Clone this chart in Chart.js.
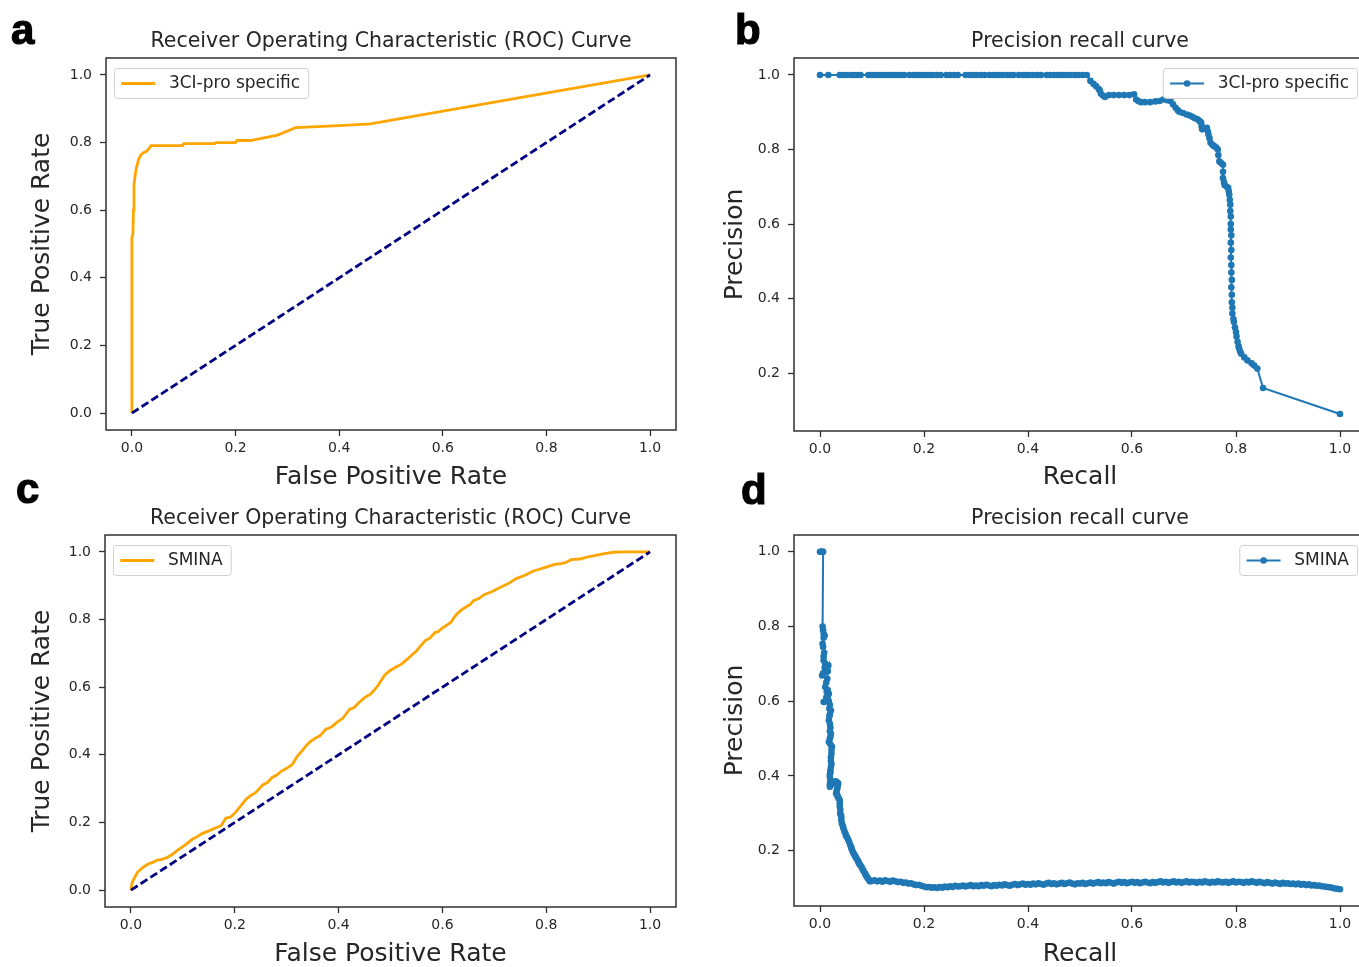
<!DOCTYPE html>
<html>
<head>
<meta charset="utf-8">
<script src="https://cdn.jsdelivr.net/npm/chart.js@4.4.1/dist/chart.umd.min.js"></script>
<style>
  html, body { margin: 0; padding: 0; background: #fff; }
  body { width: 1359px; height: 967px; overflow: hidden; position: relative; }
  canvas { position: absolute; }
  .tag {
    position: absolute; z-index: 5;
    font-family: "Liberation Sans", Arial, sans-serif; font-weight: bold;
    font-size: 42px; line-height: 42px; color: #000;
    -webkit-text-stroke: 1.2px #000;
  }
</style>
</head>
<body>
<canvas id="rocPro" width="690" height="500" style="left:0px;top:0px"></canvas>
<canvas id="prPro" width="680" height="500" style="left:700px;top:0px"></canvas>
<canvas id="rocSmina" width="690" height="500" style="left:0px;top:480px"></canvas>
<canvas id="prSmina" width="680" height="500" style="left:700px;top:480px"></canvas>
<div class="tag" style="left:11px;top:9px">a</div>
<div class="tag" style="left:735px;top:9px">b</div>
<div class="tag" style="left:16px;top:468px">c</div>
<div class="tag" style="left:741px;top:469px">d</div>
<script>
// ---- tick labels ----
const rateTicks = [0.0, 0.2, 0.4, 0.6, 0.8, 1.0];
const recallTicks = [0.0, 0.2, 0.4, 0.6, 0.8, 1.0];
const precisionTicks = [0.2, 0.4, 0.6, 0.8, 1.0];

// ---- chance diagonal ----
const chanceX = [0, 1];
const chanceY = [0, 1];

// ---- 3CI-pro specific: ROC ----
const rocProFpr = [0, 0, 0.002, 0.003, 0.004, 0.006, 0.008, 0.010, 0.013, 0.017, 0.022, 0.027, 0.032, 0.037,
  0.098, 0.100, 0.160, 0.162, 0.200, 0.203, 0.229, 0.250, 0.281, 0.316, 0.400, 0.460, 1.0];
const rocProTpr = [0, 0.52, 0.53, 0.60, 0.675, 0.700, 0.720, 0.734, 0.750, 0.763, 0.770, 0.773, 0.780, 0.791,
  0.791, 0.797, 0.797, 0.800, 0.800, 0.806, 0.806, 0.812, 0.822, 0.844, 0.850, 0.855, 1.0];

// ---- 3CI-pro specific: precision / recall ----
const prProRecall = [0.000, 0.016, 0.038, 0.045, 0.052, 0.060, 0.066, 0.072, 0.078, 0.093, 0.100, 0.106, 0.113,
  0.119, 0.125, 0.131, 0.138, 0.144, 0.150, 0.156, 0.162, 0.172, 0.180, 0.186, 0.192, 0.198, 0.205, 0.211,
  0.217, 0.225, 0.232, 0.243, 0.250, 0.258, 0.265, 0.280, 0.288, 0.295, 0.302, 0.310, 0.317, 0.326, 0.333,
  0.340, 0.346, 0.352, 0.360, 0.366, 0.372, 0.382, 0.390, 0.396, 0.402, 0.410, 0.418, 0.425, 0.436, 0.443,
  0.450, 0.456, 0.462, 0.468, 0.475, 0.482, 0.490, 0.497, 0.505, 0.513,
  0.520, 0.526, 0.531, 0.536, 0.538, 0.540, 0.544, 0.548, 0.556, 0.565, 0.575, 0.585, 0.595, 0.604,
  0.608, 0.612, 0.617, 0.625, 0.635, 0.645, 0.653, 0.660, 0.668, 0.674, 0.679, 0.684, 0.688, 0.691,
  0.698, 0.705, 0.711, 0.716, 0.721, 0.726, 0.730, 0.733, 0.734, 0.735, 0.740, 0.744, 0.746, 0.747,
  0.749, 0.751, 0.755, 0.758, 0.762, 0.765, 0.766, 0.768, 0.772, 0.775, 0.775, 0.775, 0.777, 0.778,
  0.782, 0.785, 0.786, 0.787, 0.788, 0.789, 0.789, 0.790, 0.790, 0.790, 0.791, 0.790, 0.791, 0.790,
  0.791, 0.791, 0.792, 0.791, 0.792, 0.792, 0.793, 0.793, 0.795, 0.796, 0.798, 0.800, 0.801, 0.803,
  0.805, 0.806, 0.808, 0.810, 0.816, 0.822, 0.830, 0.835, 0.841, 0.852, 1.000];
const prProPrecision = [1.0, 1.0, 1.0, 1.0, 1.0, 1.0, 1.0, 1.0, 1.0, 1.0, 1.0, 1.0, 1.0,
  1.0, 1.0, 1.0, 1.0, 1.0, 1.0, 1.0, 1.0, 1.0, 1.0, 1.0, 1.0, 1.0, 1.0, 1.0,
  1.0, 1.0, 1.0, 1.0, 1.0, 1.0, 1.0, 1.0, 1.0, 1.0, 1.0, 1.0, 1.0, 1.0, 1.0,
  1.0, 1.0, 1.0, 1.0, 1.0, 1.0, 1.0, 1.0, 1.0, 1.0, 1.0, 1.0, 1.0, 1.0, 1.0,
  1.0, 1.0, 1.0, 1.0, 1.0, 1.0, 1.0, 1.0, 1.0, 1.0,
  0.984, 0.976, 0.970, 0.962, 0.959, 0.950, 0.945, 0.941, 0.946, 0.946, 0.946, 0.946, 0.946, 0.948,
  0.934, 0.930, 0.927, 0.927, 0.927, 0.929, 0.930, 0.934, 0.932, 0.930, 0.921, 0.912, 0.905, 0.901,
  0.898, 0.894, 0.891, 0.888, 0.884, 0.881, 0.876, 0.872, 0.862, 0.854, 0.857, 0.858, 0.848, 0.840,
  0.830, 0.818, 0.812, 0.809, 0.805, 0.800, 0.785, 0.768, 0.763, 0.759, 0.740, 0.723, 0.712, 0.705,
  0.700, 0.697, 0.688, 0.679, 0.665, 0.652, 0.635, 0.620, 0.600, 0.585, 0.570, 0.550, 0.530, 0.510,
  0.490, 0.470, 0.450, 0.430, 0.410, 0.390, 0.375, 0.360, 0.345, 0.337, 0.322, 0.310, 0.298, 0.284,
  0.272, 0.266, 0.258, 0.252, 0.242, 0.234, 0.226, 0.220, 0.212, 0.160, 0.090];

// ---- SMINA: ROC ----
const rocSminaFpr = [0, 0.002, 0.004, 0.008, 0.012, 0.018, 0.023, 0.033, 0.042, 0.051, 0.060, 0.069, 0.080, 0.090,
  0.104, 0.119, 0.128, 0.137, 0.150, 0.165, 0.174, 0.183, 0.192, 0.201, 0.212, 0.222, 0.231, 0.240,
  0.254, 0.263, 0.272, 0.281, 0.290, 0.300, 0.311, 0.320, 0.329, 0.338, 0.347, 0.356, 0.364, 0.375,
  0.386, 0.396, 0.408, 0.421, 0.430, 0.439, 0.450, 0.462, 0.475, 0.482, 0.489, 0.500, 0.510, 0.521,
  0.532, 0.541, 0.550, 0.558, 0.567, 0.576, 0.585, 0.592, 0.599, 0.608, 0.617, 0.622, 0.628, 0.640,
  0.653, 0.660, 0.670, 0.681, 0.695, 0.710, 0.724, 0.733, 0.742, 0.758, 0.774, 0.785, 0.795, 0.806,
  0.816, 0.827, 0.838, 0.848, 0.865, 0.880, 0.891, 0.902, 0.915, 0.930, 0.950, 0.970, 1.0];
const rocSminaTpr = [0, 0.020, 0.028, 0.040, 0.052, 0.060, 0.067, 0.077, 0.082, 0.089, 0.091, 0.096, 0.106, 0.118,
  0.133, 0.151, 0.158, 0.167, 0.175, 0.185, 0.191, 0.213, 0.216, 0.229, 0.250, 0.269, 0.280, 0.288,
  0.311, 0.318, 0.333, 0.340, 0.352, 0.360, 0.372, 0.395, 0.411, 0.428, 0.441, 0.450, 0.456, 0.475,
  0.482, 0.495, 0.508, 0.534, 0.540, 0.554, 0.569, 0.580, 0.603, 0.620, 0.636, 0.650, 0.659, 0.668,
  0.682, 0.695, 0.707, 0.722, 0.738, 0.745, 0.761, 0.764, 0.774, 0.783, 0.793, 0.805, 0.817, 0.832,
  0.844, 0.856, 0.862, 0.874, 0.882, 0.894, 0.904, 0.912, 0.921, 0.930, 0.943, 0.948, 0.953, 0.958,
  0.963, 0.965, 0.969, 0.977, 0.979, 0.985, 0.988, 0.992, 0.996, 0.999, 1.0, 1.0, 1.0];

// ---- SMINA: precision / recall ----
const prSminaRecall = [
  0.000, 0.002, 0.003, 0.005, 0.006,
  0.005, 0.006, 0.007, 0.009, 0.007, 0.005, 0.006, 0.008, 0.007, 0.007, 0.010, 0.009, 0.004, 0.006, 0.012,
  0.014, 0.016, 0.015, 0.014, 0.012, 0.010, 0.013, 0.015, 0.017, 0.012, 0.007, 0.011, 0.015, 0.017, 0.019,
  0.018, 0.021, 0.019, 0.018, 0.017, 0.019, 0.020, 0.019, 0.021, 0.020, 0.019, 0.017, 0.020, 0.023, 0.022,
  0.022, 0.021, 0.021, 0.022, 0.021, 0.020, 0.020, 0.019, 0.019, 0.020, 0.020, 0.019, 0.019, 0.021, 0.024,
  0.026, 0.028, 0.030, 0.032, 0.034, 0.035, 0.034, 0.033, 0.032, 0.031, 0.033, 0.034, 0.036, 0.038, 0.038,
  0.038, 0.039, 0.039, 0.040, 0.041, 0.041, 0.042, 0.044, 0.045, 0.047, 0.049, 0.050, 0.052, 0.054, 0.056,
  0.058, 0.060, 0.061, 0.063, 0.065, 0.067, 0.068, 0.070, 0.072, 0.074, 0.075, 0.077, 0.080, 0.082, 0.084,
  0.087, 0.088, 0.090, 0.092, 0.094, 0.096,
  0.100, 0.105, 0.110, 0.115, 0.120, 0.125, 0.130, 0.135, 0.140, 0.145,
  0.150, 0.155, 0.160, 0.165, 0.170, 0.175, 0.180, 0.185, 0.190, 0.195,
  0.200, 0.205, 0.210, 0.215, 0.220, 0.225, 0.230, 0.235, 0.240, 0.245,
  0.250, 0.255, 0.260, 0.265, 0.270, 0.275, 0.280, 0.285, 0.290, 0.295,
  0.300, 0.305, 0.310, 0.315, 0.320, 0.325, 0.330, 0.335, 0.340, 0.345,
  0.350, 0.355, 0.360, 0.365, 0.370, 0.375, 0.380, 0.385, 0.390, 0.395,
  0.400, 0.405, 0.410, 0.415, 0.420, 0.425, 0.430, 0.435, 0.440, 0.445,
  0.450, 0.455, 0.460, 0.465, 0.470, 0.475, 0.480, 0.485, 0.490, 0.495,
  0.500, 0.505, 0.510, 0.515, 0.520, 0.525, 0.530, 0.535, 0.540, 0.545,
  0.550, 0.555, 0.560, 0.565, 0.570, 0.575, 0.580, 0.585, 0.590, 0.595,
  0.600, 0.605, 0.610, 0.615, 0.620, 0.625, 0.630, 0.635, 0.640, 0.645,
  0.650, 0.655, 0.660, 0.665, 0.670, 0.675, 0.680, 0.685, 0.690, 0.695,
  0.700, 0.705, 0.710, 0.715, 0.720, 0.725, 0.730, 0.735, 0.740, 0.745,
  0.750, 0.755, 0.760, 0.765, 0.770, 0.775, 0.780, 0.785, 0.790, 0.795,
  0.800, 0.805, 0.810, 0.815, 0.820, 0.825, 0.830, 0.835, 0.840, 0.845,
  0.850, 0.855, 0.860, 0.865, 0.870, 0.875, 0.880, 0.885, 0.890, 0.895,
  0.900, 0.905, 0.910, 0.915, 0.920, 0.925, 0.930, 0.935, 0.940, 0.945,
  0.950, 0.955, 0.960, 0.965, 0.970, 0.975, 0.980, 0.985, 0.990, 0.995,
  1.000];
const prSminaPrecision = [
  1.000, 1.000, 1.000, 1.000, 1.000,
  0.800, 0.790, 0.780, 0.776, 0.770, 0.754, 0.745, 0.730, 0.720, 0.709, 0.700, 0.690, 0.669, 0.675, 0.680,
  0.690, 0.696, 0.680, 0.660, 0.650, 0.638, 0.625, 0.630, 0.620, 0.610, 0.598, 0.600, 0.610, 0.600, 0.590,
  0.580, 0.575, 0.565, 0.560, 0.549, 0.540, 0.530, 0.520, 0.513, 0.505, 0.500, 0.491, 0.485, 0.478, 0.470,
  0.460, 0.450, 0.440, 0.432, 0.424, 0.415, 0.410, 0.404, 0.398, 0.390, 0.385, 0.378, 0.371, 0.376, 0.380,
  0.383, 0.384, 0.386, 0.383, 0.382, 0.380, 0.372, 0.365, 0.360, 0.353, 0.350, 0.345, 0.340, 0.335, 0.327,
  0.318, 0.310, 0.300, 0.295, 0.290, 0.282, 0.273, 0.266, 0.260, 0.252, 0.246, 0.240, 0.236, 0.230, 0.224,
  0.216, 0.210, 0.204, 0.197, 0.192, 0.188, 0.184, 0.180, 0.175, 0.170, 0.166, 0.162, 0.156, 0.150, 0.145,
  0.139, 0.134, 0.130, 0.126, 0.122, 0.118,
  0.119, 0.121, 0.118, 0.120, 0.117, 0.121, 0.119, 0.117, 0.120, 0.118,
  0.116, 0.117, 0.114, 0.115, 0.112, 0.113, 0.110, 0.108, 0.109, 0.106,
  0.104, 0.102, 0.103, 0.101, 0.102, 0.100, 0.103, 0.101, 0.104, 0.102,
  0.105, 0.103, 0.106, 0.104, 0.105, 0.107, 0.104, 0.106, 0.108, 0.105,
  0.107, 0.105, 0.108, 0.106, 0.109, 0.107, 0.105, 0.108, 0.106, 0.109,
  0.107, 0.110, 0.108, 0.106, 0.109, 0.111, 0.108, 0.110, 0.112, 0.109,
  0.111, 0.109, 0.112, 0.110, 0.113, 0.111, 0.109, 0.112, 0.114, 0.111,
  0.113, 0.110, 0.112, 0.114, 0.111, 0.113, 0.115, 0.112, 0.110, 0.113,
  0.112, 0.114, 0.111, 0.113, 0.115, 0.112, 0.114, 0.116, 0.113, 0.115,
  0.113, 0.116, 0.114, 0.112, 0.115, 0.117, 0.114, 0.116, 0.113, 0.115,
  0.117, 0.114, 0.116, 0.113, 0.115, 0.117, 0.115, 0.113, 0.116, 0.114,
  0.116, 0.118, 0.115, 0.117, 0.114, 0.116, 0.118, 0.115, 0.117, 0.114,
  0.116, 0.118, 0.115, 0.117, 0.116, 0.114, 0.117, 0.115, 0.118, 0.116,
  0.114, 0.117, 0.115, 0.118, 0.116, 0.115, 0.117, 0.114, 0.116, 0.118,
  0.115, 0.117, 0.116, 0.114, 0.117, 0.115, 0.118, 0.116, 0.114, 0.117,
  0.115, 0.113, 0.116, 0.114, 0.112, 0.115, 0.113, 0.111, 0.114, 0.112,
  0.113, 0.111, 0.112, 0.110, 0.112, 0.109, 0.111, 0.108, 0.110, 0.107,
  0.108, 0.106, 0.107, 0.105, 0.104, 0.103, 0.102, 0.101, 0.099, 0.098,
  0.097];

const FONT = "'DejaVu Sans', 'Liberation Sans', sans-serif";
const INK = '#262626';

const zip = (xs, ys) => xs.map((x, i) => ({ x: x, y: ys[i] }));

// Frame, panel title and legend drawn on top of the plot area
const panelDecor = {
  id: 'panelDecor',
  afterDraw(chart, args, opts) {
    const ctx = chart.ctx;
    const ca = chart.chartArea;
    ctx.save();
    // full box frame
    ctx.strokeStyle = '#303030';
    ctx.lineWidth = 1.5;
    ctx.strokeRect(ca.left, ca.top, ca.right - ca.left, ca.bottom - ca.top);
    // title
    ctx.fillStyle = INK;
    ctx.font = '20.5px ' + FONT;
    ctx.textAlign = 'center';
    ctx.textBaseline = 'middle';
    ctx.fillText(opts.title, (ca.left + ca.right) / 2, ca.top - 16);
    // legend
    const ds = chart.data.datasets[opts.legendIndex];
    const fs = 17;
    ctx.font = fs + 'px ' + FONT;
    const tw = ctx.measureText(ds.label).width;
    const w = 0.4 * fs + 2 * fs + 0.8 * fs + tw + 0.5 * fs;
    const h = 30;
    const bx = opts.legendCorner === 'left' ? ca.left + 8.5 : ca.right - 8.5 - w;
    const by = ca.top + 10.5;
    ctx.beginPath();
    ctx.roundRect(bx, by, w, h, 3);
    ctx.fillStyle = 'rgba(255,255,255,0.85)';
    ctx.fill();
    ctx.strokeStyle = '#d0d0d0';
    ctx.lineWidth = 1;
    ctx.stroke();
    const ly = by + h / 2;
    const lx0 = bx + 0.4 * fs, lx1 = lx0 + 2 * fs;
    ctx.beginPath();
    ctx.moveTo(lx0, ly);
    ctx.lineTo(lx1, ly);
    ctx.strokeStyle = ds.borderColor;
    ctx.lineWidth = ds.borderWidth;
    ctx.stroke();
    if (ds.pointRadius > 0) {
      ctx.beginPath();
      ctx.arc((lx0 + lx1) / 2, ly, ds.pointRadius, 0, Math.PI * 2);
      ctx.fillStyle = ds.borderColor;
      ctx.fill();
    }
    ctx.fillStyle = INK;
    ctx.textAlign = 'left';
    ctx.textBaseline = 'middle';
    ctx.fillText(ds.label, lx1 + 0.8 * fs, ly + 0.5);
    ctx.restore();
  }
};

function axis(cfg) {
  return {
    type: 'linear',
    min: cfg.min,
    max: cfg.max,
    afterBuildTicks: (sc) => { sc.ticks = cfg.ticks.map(v => ({ value: v })); },
    afterFit: cfg.afterFit,
    ticks: {
      callback: (v) => Number(v).toFixed(1),
      font: { family: FONT, size: 14 },
      color: INK,
      padding: cfg.tickPad,
      maxRotation: 0,
      autoSkip: false
    },
    grid: { display: true, drawOnChartArea: false, drawTicks: true, tickLength: 6, tickWidth: 1.3, tickColor: '#303030' },
    border: { display: false },
    title: {
      display: true,
      text: cfg.title,
      font: { family: FONT, size: 25 },
      color: INK,
      padding: cfg.titlePad
    }
  };
}

function makePanel(id, p) {
  const canvas = document.getElementById(id);
  const W = canvas.width, H = canvas.height;
  return new Chart(canvas, {
    type: 'scatter',
    data: { datasets: p.datasets },
    options: {
      responsive: false,
      animation: false,
      events: [],
      layout: { padding: { top: p.plot.top, right: W - p.plot.right, bottom: 0, left: 0 } },
      plugins: {
        legend: { display: false },
        title: { display: false },
        tooltip: { enabled: false },
        panelDecor: { title: p.title, legendIndex: p.legendIndex, legendCorner: p.legendCorner }
      },
      scales: {
        x: axis({
          min: p.xRange[0], max: p.xRange[1], ticks: p.xTicks, title: p.xTitle,
          tickPad: 4, titlePad: { top: 0, bottom: p.xTitlePad },
          afterFit: (sc) => { sc.height = H - p.plot.bottom; }
        }),
        y: axis({
          min: p.yRange[0], max: p.yRange[1], ticks: p.yTicks, title: p.yTitle,
          tickPad: 8, titlePad: { top: p.yTitlePad, bottom: 0 },
          afterFit: (sc) => { sc.width = p.plot.left; }
        })
      }
    },
    plugins: [panelDecor]
  });
}

const rocStyle = { borderColor: '#ffa500', borderWidth: 2.8, pointRadius: 0, showLine: true, tension: 0, order: 1 };
const chanceStyle = { label: 'chance', borderColor: '#000080', borderWidth: 2.8, borderDash: [8, 3.6], pointRadius: 0, showLine: true, tension: 0, order: 0 };
const prStyle = { borderColor: '#1f77b4', backgroundColor: '#1f77b4', borderWidth: 2, pointRadius: 3.3, pointBorderWidth: 0, pointBackgroundColor: '#1f77b4', showLine: true, tension: 0 };

makePanel('rocPro', {
  plot: { left: 106, top: 58, right: 676, bottom: 430 },
  title: 'Receiver Operating Characteristic (ROC) Curve',
  xTitle: 'False Positive Rate', yTitle: 'True Positive Rate',
  xRange: [-0.05, 1.05], yRange: [-0.05, 1.05],
  xTicks: rateTicks, yTicks: rateTicks,
  xTitlePad: 8, yTitlePad: 27.5,
  legendIndex: 0, legendCorner: 'left',
  datasets: [
    Object.assign({ label: '3CI-pro specific', data: zip(rocProFpr, rocProTpr) }, rocStyle),
    Object.assign({ data: zip(chanceX, chanceY) }, chanceStyle)
  ]
});

makePanel('prPro', {
  plot: { left: 94, top: 58, right: 666, bottom: 431 },
  title: 'Precision recall curve',
  xTitle: 'Recall', yTitle: 'Precision',
  xRange: [-0.05, 1.05], yRange: [0.0445, 1.0455],
  xTicks: recallTicks, yTicks: precisionTicks,
  xTitlePad: 8, yTitlePad: 20,
  legendIndex: 0, legendCorner: 'right',
  datasets: [
    Object.assign({ label: '3CI-pro specific', data: zip(prProRecall, prProPrecision) }, prStyle)
  ]
});

makePanel('rocSmina', {
  plot: { left: 105, top: 55, right: 676, bottom: 427 },
  title: 'Receiver Operating Characteristic (ROC) Curve',
  xTitle: 'False Positive Rate', yTitle: 'True Positive Rate',
  xRange: [-0.05, 1.05], yRange: [-0.05, 1.05],
  xTicks: rateTicks, yTicks: rateTicks,
  xTitlePad: 11, yTitlePad: 27.5,
  legendIndex: 0, legendCorner: 'left',
  datasets: [
    Object.assign({ label: 'SMINA', data: zip(rocSminaFpr, rocSminaTpr) }, rocStyle),
    Object.assign({ data: zip(chanceX, chanceY) }, chanceStyle)
  ]
});

makePanel('prSmina', {
  plot: { left: 94, top: 55, right: 666, bottom: 426 },
  title: 'Precision recall curve',
  xTitle: 'Recall', yTitle: 'Precision',
  xRange: [-0.05, 1.05], yRange: [0.052, 1.045],
  xTicks: recallTicks, yTicks: precisionTicks,
  xTitlePad: 11, yTitlePad: 20,
  legendIndex: 0, legendCorner: 'right',
  datasets: [
    Object.assign({ label: 'SMINA', data: zip(prSminaRecall, prSminaPrecision) }, prStyle)
  ]
});
</script>
</body>
</html>
